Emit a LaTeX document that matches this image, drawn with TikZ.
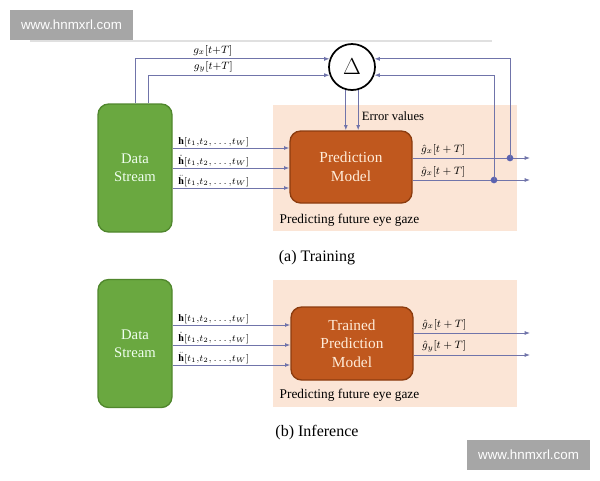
\documentclass[tikz,border=0pt]{standalone}
\usepackage{fontspec}
\setmainfont{Liberation Serif}
\newfontfamily\wmfont{Liberation Sans}
\usetikzlibrary{arrows.meta}
\definecolor{linec}{RGB}{112,116,170}
\definecolor{dotc}{RGB}{90,98,176}
\definecolor{dsgreen}{RGB}{106,168,64}
\definecolor{dsedge}{RGB}{80,135,45}
\definecolor{pmorange}{RGB}{192,88,30}
\definecolor{pmedge}{RGB}{140,60,15}
\definecolor{peach}{RGB}{251,229,214}
\definecolor{wmgray}{RGB}{166,166,166}
\newcommand{\hwin}{[t_1{,}t_2{,}\ldots{,}t_W]}

\begin{document}
\begin{tikzpicture}[x=0.75pt, y=-0.75pt,
  arr/.style={draw=linec, line width=0.7pt, -{Latex[length=4pt,width=3pt]}},
  dsbox/.style={rectangle, rounded corners=8pt, draw=dsedge, line width=1pt, fill=dsgreen, text=green!6, align=center, minimum width=55.5pt, minimum height=96pt, font=\fontsize{11}{13.5}\selectfont},
  pmbox/.style={rectangle, rounded corners=8pt, draw=pmedge, line width=1pt, fill=pmorange, text=orange!15, align=center, minimum width=91.5pt, font=\fontsize{11.5}{14}\selectfont},
  lbl/.style={inner sep=0pt, font=\footnotesize},
  hlbl/.style={inner sep=0pt, font=\fontsize{7.5}{9}\selectfont, anchor=south west, pos=0, xshift=4pt, yshift=0.5pt},
  dot/.style={circle, fill=dotc, inner sep=0pt, minimum size=5pt},
  wm/.style={fill=wmgray, text=white, minimum width=92pt, minimum height=22.5pt, font=\wmfont\fontsize{10}{12}\selectfont}]
\path[fill=white, use as bounding box] (0,0) rectangle (600,480);
\node[wm] (wm1) at (71.5,25) {www.hnmxrl.com};
\node[wm] (wm2) at (528.5,455) {www.hnmxrl.com};
\draw[black!12, line width=0.8pt] (30,41) -- (492,41);

% (a) training
\fill[peach] (273,105) rectangle (517,231);
\node[dsbox] (ds1) at (135,168) {Data\\Stream};
\node[pmbox, minimum height=54pt] (pm1) at (351,167) {Prediction\\Model};
\node[circle, draw, line width=1.3pt, minimum size=34.5pt, inner sep=0pt, font=\fontsize{17}{17}\selectfont] (delta) at (352,67) {$\Delta$};
\coordinate (i1) at (0,148);
\coordinate (i2) at (0,168);
\coordinate (i3) at (0,188);
\coordinate (jx1) at (510,158);
\coordinate (jy1) at (494,180);
\coordinate (ox1) at (530,158);
\coordinate (oy1) at (530,180);
\coordinate (gx1) at (135,0);
\coordinate (gy1) at (148,0);
\draw[arr] (ds1.east |- i1) -- node[hlbl] {$\mathbf{h}\hwin$} (pm1.west |- i1);
\draw[arr] (ds1.east |- i2) -- node[hlbl] {$\dot{\mathbf{h}}\hwin$} (pm1.west |- i2);
\draw[arr] (ds1.east |- i3) -- node[hlbl] {$\ddot{\mathbf{h}}\hwin$} (pm1.west |- i3);
\draw[arr] (pm1.east |- jx1) -- node[lbl, anchor=south west, pos=0, xshift=6pt, yshift=2pt] {$\hat{g}_x[t+T]$} (ox1);
\draw[arr] (pm1.east |- jy1) -- node[lbl, anchor=south west, pos=0, xshift=6pt, yshift=2pt] {$\hat{g}_x[t+T]$} (oy1);
\node[dot] (d1) at (jx1) {};
\node[dot] (d2) at (jy1) {};
\draw[arr] (jx1) |- (delta.20);
\draw[arr] (jy1) |- (delta.-20);
\draw[arr] (ds1.north -| gx1) |- node[lbl, above=2pt, pos=0.70] {$g_x[t{+}T]$} (delta.160);
\draw[arr] (ds1.north -| gy1) |- node[lbl, above=2pt, pos=0.68] {$g_y[t{+}T]$} (delta.200);
\draw[arr] (delta.255) -- (delta.255 |- pm1.north);
\draw[arr] (delta.285) -- (delta.285 |- pm1.north);
\node[font=\fontsize{9.5}{11}\selectfont] (ev) at (393,116) {Error values};
\node[anchor=west, font=\fontsize{10}{12}\selectfont] (pf1) at (275,220) {Predicting future eye gaze};
\node[font=\fontsize{12}{14}\selectfont] (cap1) at (317,258) {(a)~Training};

% (b) inference
\fill[peach] (273,280) rectangle (517,407);
\node[dsbox] (ds2) at (135,343.5) {Data\\Stream};
\node[pmbox, minimum height=54.75pt] (pm2) at (352,343.5) {Trained\\Prediction\\Model};
\coordinate (k1) at (0,325);
\coordinate (k2) at (0,345);
\coordinate (k3) at (0,365);
\coordinate (ox2) at (530,333);
\coordinate (oy2) at (530,355);
\draw[arr] (ds2.east |- k1) -- node[hlbl] {$\mathbf{h}\hwin$} (pm2.west |- k1);
\draw[arr] (ds2.east |- k2) -- node[hlbl] {$\dot{\mathbf{h}}\hwin$} (pm2.west |- k2);
\draw[arr] (ds2.east |- k3) -- node[hlbl] {$\ddot{\mathbf{h}}\hwin$} (pm2.west |- k3);
\draw[arr] (pm2.east |- ox2) -- node[lbl, anchor=south west, pos=0, xshift=6pt, yshift=2pt] {$\hat{g}_x[t+T]$} (ox2);
\draw[arr] (pm2.east |- oy2) -- node[lbl, anchor=south west, pos=0, xshift=6pt, yshift=2pt] {$\hat{g}_y[t+T]$} (oy2);
\node[anchor=west, font=\fontsize{10}{12}\selectfont] (pf2) at (275,395) {Predicting future eye gaze};
\node[font=\fontsize{12}{14}\selectfont] (cap2) at (317,433) {(b)~Inference};
\end{tikzpicture}
\end{document}
